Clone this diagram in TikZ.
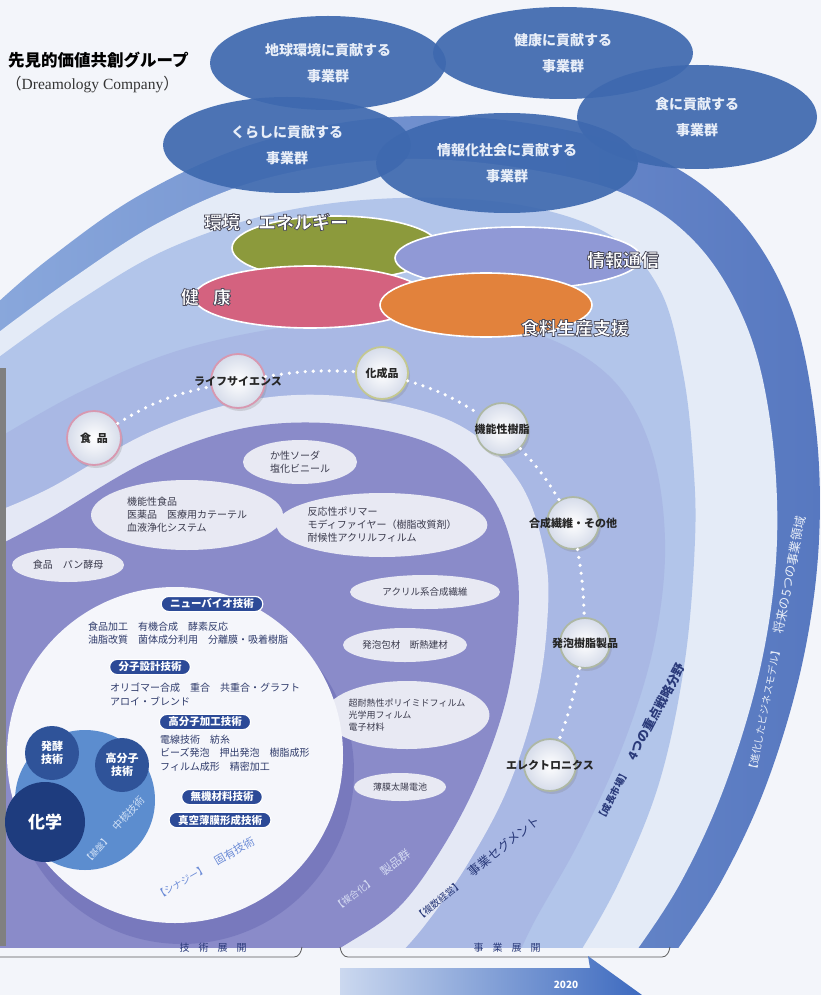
\documentclass[tikz,border=0pt]{standalone}
\usepackage{fontspec}
\setmainfont{Noto Sans CJK JP}
\newfontfamily\latinserif{Liberation Serif}
\usetikzlibrary{shapes.geometric,shapes.misc,shadows}
\definecolor{bg}{HTML}{F3F5FA}
\definecolor{bandA}{HTML}{5778C0}
\definecolor{bandAlight}{HTML}{8AA8DC}
\definecolor{wband}{HTML}{E4EBF7}
\definecolor{regTwo}{HTML}{B2C5EA}
\definecolor{regThree}{HTML}{A9B8E4}
\definecolor{wthree}{HTML}{E4E8F5}
\definecolor{purp}{HTML}{8A8BC9}
\definecolor{purpdark}{HTML}{6A6CB4}
\definecolor{topblue}{HTML}{3E69AF}
\definecolor{toptext}{HTML}{E8EEF8}
\definecolor{cgreen}{HTML}{8C9A3C}
\definecolor{cblue}{HTML}{9099D6}
\definecolor{cpink}{HTML}{D4627F}
\definecolor{corange}{HTML}{E2823C}
\definecolor{pillc}{HTML}{2C4A97}
\definecolor{techtxt}{HTML}{2E3A6A}
\definecolor{navy}{HTML}{2A3A7A}
\definecolor{diskblue}{HTML}{5C8DCF}
\definecolor{smallblue}{HTML}{2F5399}
\definecolor{chemblue}{HTML}{1E3C7E}
\definecolor{pellfill}{HTML}{E8E9F3}
\definecolor{pelltxt}{HTML}{3A3A4C}
\definecolor{rimpink}{HTML}{D898B0}
\definecolor{rimgreen}{HTML}{C4C890}
\definecolor{rimgray}{HTML}{AEB8A4}
\definecolor{pnodeedge}{HTML}{D6DCEA}
\definecolor{prodtxt}{HTML}{D4DAF2}
\definecolor{koyutxt}{HTML}{6A8AD6}
\definecolor{chukakutxt}{HTML}{D0E0F6}
\definecolor{arrowlight}{HTML}{CBD8EF}
\definecolor{arrowdark}{HTML}{3D6ABF}
\definecolor{circfill}{HTML}{F5F6FB}
% outlined (fill + stroke) text for the four field labels
\newcommand\outlinedtext[1]{\special{pdf:literal 2 Tr 0.75 w 0.30 0.30 0.36 RG}#1\special{pdf:literal 0 Tr 0 G}}
\begin{document}
\begin{tikzpicture}[x=1pt,y=-1pt,
  topell/.style={ellipse, fill=topblue, fill opacity=0.92, text opacity=1, text=toptext, font=\bfseries\fontsize{14}{26}\selectfont, align=center, inner sep=0pt},
  colell/.style={ellipse, draw=white, line width=1.6pt, inner sep=0pt},
  cbig/.style={font=\bfseries\fontsize{18}{18}\selectfont, inner sep=0pt, text=white},
  pnode/.style={circle, minimum size=#1, inner sep=0pt, line width=1.8pt, inner color=white, outer color=pnodeedge, drop shadow={opacity=0.25, shadow xshift=2pt, shadow yshift=-3pt}},
  plabel/.style={font=\bfseries\fontsize{11}{11}\selectfont, text=black!85, inner sep=0pt},
  dots/.style={draw=white, line width=3.6pt, line cap=round, dash pattern=on 0pt off 8pt},
  pell/.style={ellipse, fill=pellfill, text=pelltxt, inner sep=0pt, align=left, font=\fontsize{10}{13}\selectfont},
  pillbox/.style={rounded rectangle, fill=pillc, draw=white, line width=1.2pt, text=white, font=\bfseries\fontsize{10.5}{12}\selectfont, inner xsep=7pt, inner ysep=2.6pt},
  ttext/.style={anchor=west, text=techtxt, font=\fontsize{10}{13}\selectfont, inner sep=0pt},
  smallc/.style={circle, fill=smallblue, text=white, align=center, inner sep=0pt, font=\bfseries\fontsize{11}{13}\selectfont},
  brk/.style={draw=black!65, line width=0.8pt},
  brklbl/.style={text=navy, font=\fontsize{10}{10}\selectfont, inner sep=0pt}
]
\useasboundingbox (0,0) rectangle (821,995);
\fill[bg] (0,0) rectangle (821,995);

% ---------- bands ----------
\begin{scope}
\clip (0,0) rectangle (821,947);
\shade[left color=bandAlight, right color=bandA] plot[smooth, tension=0.6] coordinates {(-5,305) (50,258) (140,195) (250,145) (380,118) (520,122) (650,155) (735,215) (790,305) (815,420) (819,540) (803,660) (768,780) (722,880) (670,960) (640,1000)} -- (-20,1000) -- cycle;
\fill[wband] plot[smooth, tension=0.6] coordinates {(-5,335) (70,280) (160,222) (260,180) (380,160) (500,165) (620,192) (695,242) (745,322) (770,420) (777,540) (762,660) (727,780) (682,880) (630,960) (600,1000)} -- (-20,1000) -- cycle;
\fill[regTwo] plot[smooth, tension=0.6] coordinates {(-5,360) (80,300) (170,248) (280,212) (400,198) (520,205) (610,235) (660,290) (683,373) (693,460) (695,540) (685,660) (660,780) (620,880) (575,960) (545,1000)} -- (-20,1000) -- cycle;
\fill[regThree] plot[smooth, tension=0.6] coordinates {(-5,440) (80,392) (180,350) (300,325) (420,318) (530,332) (608,375) (650,445) (665,540) (655,640) (625,740) (580,840) (530,930) (500,1000)} -- (-20,1000) -- cycle;
\fill[wthree] plot[smooth, tension=0.6] coordinates {(-5,512) (50,488) (150,432) (250,400) (350,397) (455,423) (518,480) (545,555) (547,625) (535,705) (507,790) (467,865) (425,925) (390,965) (360,1000)} -- (-20,1000) -- cycle;
\fill[purp] plot[smooth, tension=0.6] coordinates {(-5,547) (50,518) (150,460) (250,427) (350,425) (440,448) (492,497) (515,560) (518,620) (506,700) (478,780) (441,850) (398,908) (345,945) (300,970) (270,1000)} -- (-20,1000) -- cycle;
\fill[purpdark, opacity=0.55] (182,772) circle[radius=172pt];
\end{scope}
\fill[black!50] (0,368) rectangle (6,946);

% ---------- four strategic fields ----------
\node[colell, fill=cgreen, minimum width=208pt, minimum height=64pt] (env) at (336,248) {};
\node[colell, fill=cblue, minimum width=246pt, minimum height=62pt] (info) at (518,258) {};
\node[colell, fill=cpink, minimum width=232pt, minimum height=62pt] (health) at (310,297) {};
\node[colell, fill=corange, minimum width=212pt, minimum height=64pt] (food) at (486,305) {};
\node[cbig] (envl) at (276,222) {\outlinedtext{環境・エネルギー}};
\node[cbig] (healthl) at (206,297) {\outlinedtext{健\hspace{14pt}康}};
\node[cbig] (infol) at (623,260) {\outlinedtext{情報通信}};
\node[cbig] (foodl) at (575,328) {\outlinedtext{食料生産支援}};

% ---------- product nodes on the dotted arc ----------
\node[pnode=54pt, draw=rimpink, label={[plabel]center:食\hspace{6pt}品}] (shokuhin) at (94,438) {};
\node[pnode=54pt, draw=rimpink, label={[plabel]center:ライフサイエンス}] (life) at (238,381) {};
\node[pnode=52pt, draw=rimgreen, label={[plabel]center:化成品}] (kaseihin) at (382,373) {};
\node[pnode=52pt, draw=rimgray, label={[plabel]center:機能性樹脂}] (jushi) at (502,429) {};
\node[pnode=52pt, draw=rimgray, label={[plabel]center:合成繊維・その他}] (gosen) at (573,523) {};
\node[pnode=50pt, draw=rimgray, label={[plabel]center:発泡樹脂製品}] (happo) at (585,643) {};
\node[pnode=52pt, draw=rimgray, label={[plabel]center:エレクトロニクス}] (elec) at (550,765) {};
\draw[dots] (shokuhin) to[bend left=10] (life);
\draw[dots] (life) to[bend left=6] (kaseihin);
\draw[dots] (kaseihin) to[bend left=8] (jushi);
\draw[dots] (jushi) to[bend left=6] (gosen);
\draw[dots] (gosen) to[bend left=4] (happo);
\draw[dots] (happo) to[bend left=4] (elec);

% ---------- product ellipses in purple ----------
\node[pell, minimum width=114pt, minimum height=44pt] (soda) at (300,462) {か性ソーダ\\塩化ビニール};
\node[pell, minimum width=192pt, minimum height=70pt] (kinou) at (187,515) {機能性食品\\医薬品　医療用カテーテル\\血液浄化システム};
\node[pell, minimum width=112pt, minimum height=34pt] (pan) at (68,565) {食品　パン酵母};
\node[pell, minimum width=192pt, minimum height=64pt] (hannou) at (382,525) {反応性ポリマー\\モディファイヤー（樹脂改質剤）\\耐候性アクリルフィルム};
\node[pell, minimum width=150pt, minimum height=34pt, font=\fontsize{9.5}{12}\selectfont] (acryl) at (425,592) {アクリル系合成繊維};
\node[pell, minimum width=124pt, minimum height=34pt, font=\fontsize{9.5}{12}\selectfont] (hoso) at (405,645) {発泡包材　断熱建材};
\node[pell, minimum width=130pt, minimum height=68pt, font=\fontsize{9}{12}\selectfont] (poly) at (407,715) {超耐熱性ポリイミドフィルム\\光学用フィルム\\電子材料};
\node[pell, minimum width=92pt, minimum height=28pt, font=\fontsize{9}{11}\selectfont] (solar) at (400,787) {薄膜太陽電池};
\node[rotate=37, text=prodtxt, font=\fontsize{11.5}{12}\selectfont, inner sep=0pt] (seihin) at (372,880) {{\fontsize{9.5}{10}\selectfont【複合化】}　製品群};

% ---------- technology circle ----------
\node[circle, fill=circfill, minimum size=336pt, inner sep=0pt] (tech) at (175,755) {};
\node[circle, fill=diskblue, minimum size=140pt, inner sep=0pt] (core) at (85,800) {};
\node[smallc, minimum size=54pt] (hakko) at (52,753) {発酵\\技術};
\node[smallc, minimum size=54pt] (kobunshi) at (122,765) {高分子\\技術};
\node[circle, fill=chemblue, minimum size=80pt, inner sep=0pt, text=white, font=\bfseries\fontsize{17}{17}\selectfont] (kagaku) at (45,822) {化学};
\node[rotate=48, text=chukakutxt, font=\fontsize{10.5}{11}\selectfont, inner sep=0pt] (chukaku) at (114,830) {{\fontsize{8.5}{9}\selectfont【基盤】}　中核技術};
\node[rotate=30, text=koyutxt, font=\fontsize{11}{12}\selectfont, inner sep=0pt] (koyu) at (205,868) {{\fontsize{9.5}{10}\selectfont【シナジー】}　固有技術};

\node[pillbox] (bio) at (212,604) {ニューバイオ技術};
\node[ttext] (bio1) at (88,627) {食品加工　有機合成　酵素反応};
\node[ttext] (bio2) at (88,640) {油脂改質　菌体成分利用　分離膜・吸着樹脂};
\node[pillbox] (bunshi) at (150,667) {分子設計技術};
\node[ttext] (bun1) at (110,688) {オリゴマー合成　重合　共重合・グラフト};
\node[ttext] (bun2) at (110,701) {アロイ・ブレンド};
\node[pillbox] (kako) at (205,722) {高分子加工技術};
\node[ttext] (kako1) at (160,740) {電線技術　紡糸};
\node[ttext] (kako2) at (160,753) {ビーズ発泡　押出発泡　樹脂成形};
\node[ttext] (kako3) at (160,767) {フィルム成形　精密加工};
\node[pillbox] (muki) at (222,797) {無機材料技術};
\node[pillbox] (shinku) at (220,820) {真空薄膜形成技術};

% ---------- rotated band texts ----------
\node[rotate=79, text=toptext, font=\fontsize{12.5}{13}\selectfont, inner sep=0pt] (bandatxt) at (776,645) {{\fontsize{10}{11}\selectfont【進化したビジネスモデル】}　将来の5つの事業領域};
\node[rotate=62, text=navy, font=\bfseries\fontsize{12.5}{13}\selectfont, inner sep=0pt] (seicho) at (640,742) {{\fontsize{9.5}{10}\selectfont【成長市場】}　4つの重点戦略分野};
\node[rotate=39, text=navy, font=\fontsize{12.5}{13}\selectfont, inner sep=0pt] (segment) at (477,868) {{\fontsize{9.5}{10}\selectfont【複数経営】}　事業セグメント};

% ---------- top group ellipses ----------
\node[topell, minimum width=236pt, minimum height=94pt] (chikyu) at (328,63) {地球環境に貢献する\\事業群};
\node[topell, minimum width=260pt, minimum height=92pt] (kenko) at (563,53) {健康に貢献する\\事業群};
\node[topell, minimum width=248pt, minimum height=96pt] (kurashi) at (287,145) {くらしに貢献する\\事業群};
\node[topell, minimum width=262pt, minimum height=100pt] (joho) at (507,163) {情報化社会に貢献する\\事業群};
\node[topell, minimum width=240pt, minimum height=104pt] (shoku) at (697,117) {食に貢献する\\事業群};

\node[anchor=west, font=\bfseries\fontsize{16.5}{18}\selectfont, inner sep=0pt] (title) at (8,60) {先見的価値共創グループ};
\node[anchor=west, font=\fontsize{15.5}{17}\selectfont, inner sep=0pt, text=black!80] (subtitle) at (6,85) {（{\latinserif Dreamology Company}）};

% ---------- bottom brackets and arrow ----------
\coordinate (gl) at (0,957);
\coordinate (gr) at (302,947);
\draw[brk] (gl) -- (294,957) to[out=0,in=-100] (gr);
\node[brklbl] (gijutsu) at (213,948) {技\hspace{9pt}術\hspace{9pt}展\hspace{9pt}開};
\coordinate (jl) at (340,947);
\coordinate (jr) at (670,947);
\draw[brk] (jl) to[out=-80,in=180] (348,957) -- (662,957) to[out=0,in=-100] (jr);
\node[brklbl] (jigyo) at (507,948) {事\hspace{9pt}業\hspace{9pt}展\hspace{9pt}開};
\shade[left color=arrowlight, right color=arrowdark] (340,968) -- (590,968) -- (588,956) -- (642,995) -- (340,995) -- cycle;
\node[text=white, font=\bfseries\fontsize{10}{10}\selectfont, inner sep=0pt] (year) at (566,985) {2020};
\end{tikzpicture}
\end{document}
